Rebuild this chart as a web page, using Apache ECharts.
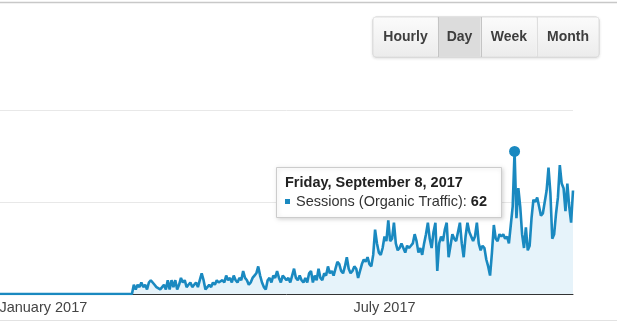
<!DOCTYPE html>
<html>
<head>
<meta charset="utf-8">
<script src="https://cdn.jsdelivr.net/npm/echarts@6/dist/echarts.min.js"></script>
<style>
html,body{margin:0;padding:0;background:#fff;}
#chart{width:617px;height:322px;}
</style>
</head>
<body>
<div id="chart"></div>
<script>
// ---- data ----
var startDate = '2016-12-09';
var tickDates = ['2017-01-01', '2017-07-01'];
var tickLabels = ['January 2017', 'July 2017'];
var buttonLabels = ['Hourly', 'Day', 'Week', 'Month'];
var selectedButton = 'Day';
var seriesName = 'Sessions (Organic Traffic)';
var highlightDate = '2017-09-08';
var highlightTitle = 'Friday, September 8, 2017';
var sessions = [
  0,0,0,0,0,0,0,0,0,0, 0,0,0,0,0,0,0,0,0,0,
  0,0,0,0,0,0,0,0,0,0, 0,0,0,0,0,0,0,0,0,0,
  0,0,0,0,0,0,0,0,0,0, 0,0,0,0,0,0,0,0,0,0,
  0,0,0,0,0,0,0,0,0,0, 0,
  4,2,4,3,5,3,4,2,5, 6,5,4,3,3,2,3,4,2,6,
  2,6,3,6,2,4,7,5,6,3, 4,5,3,4,5,3,6,9,6,2,
  3,4,3,5,4,6,5,5,6,5, 8,6,7,5,8,6,5,7,6,10,
  7,6,4,5,7,8,9,12,8,5, 3,2,6,7,5,8,7,10,7,5,
  8,7,6,7,5,8,11,7,6,8, 6,5,7,5,9,10,5,8,6,11,
  7,6,9,8,12,9,10,8,11,14, 13,10,9,12,16,11,9,10,12,11,
  7,10,13,15,14,16,13,12,17,28, 22,18,17,20,25,23,32,23,24,31,
  22,19,20,22,20,18,21,20,21,22, 26,23,18,20,17,22,26,31,24,20,
  27,31,10,22,25,23,28,31,16,21, 26,24,23,27,31,22,16,25,31,27,
  25,23,25,31,22,19,21,20,15,12, 8,18,30,24,23,26,25,26,24,25,
  22,30,38,62,33,46,38,26,20,29, 19,21,33,41,40,42,38,34,35,35,
  45,55,44,24,26,35,42,56,48,46, 36,48,38,31,45
];
var yMax = 80, yInterval = 40;

// category dates derived from the start date
function pad(n){return n<10?'0'+n:''+n;}
var dates = [];
(function(){
  var p = startDate.split('-');
  var t0 = Date.UTC(+p[0], +p[1]-1, +p[2]);
  for (var i = 0; i < sessions.length; i++) {
    var d = new Date(t0 + i*86400000);
    dates.push(d.getUTCFullYear()+'-'+pad(d.getUTCMonth()+1)+'-'+pad(d.getUTCDate()));
  }
})();
var highlightValue = sessions[dates.indexOf(highlightDate)];

var blue = '#1a89c0';
var font = '"Liberation Sans", Arial, sans-serif';

// buttons
var btnX = [373, 438, 481, 537, 599];
var graphics = [];
graphics.push({type:'line', shape:{x1:0,y1:2.5,x2:617,y2:2.5}, style:{stroke:'#c8c8c8', lineWidth:1.5}, z:1});
graphics.push({type:'line', shape:{x1:0,y1:320.5,x2:617,y2:320.5}, style:{stroke:'#e2e2e2', lineWidth:1}, z:1});
graphics.push({type:'rect', shape:{x:373,y:17,width:226,height:40,r:3},
  style:{fill:'#f4f4f4', stroke:'#cfcfcf', lineWidth:1, shadowBlur:3, shadowColor:'rgba(0,0,0,0.12)', shadowOffsetY:1}, z:10});
for (var b = 0; b < buttonLabels.length; b++) {
  var x0 = btnX[b], x1 = btnX[b+1];
  var sel = buttonLabels[b] === selectedButton;
  graphics.push({type:'rect', shape:{x:x0+0.5,y:17.5,width:x1-x0-1,height:39},
    style:{fill: sel ? '#dcdcdc' : {type:'linear',x:0,y:0,x2:0,y2:1,colorStops:[{offset:0,color:'#fbfbfb'},{offset:1,color:'#ececec'}]}}, z:11});
  if (b > 0) graphics.push({type:'line', shape:{x1:x0+0.5,y1:17,x2:x0+0.5,y2:57}, style:{stroke: sel || buttonLabels[b-1]===selectedButton ? '#c4c4c4':'#dedede', lineWidth:1}, z:12});
  graphics.push({type:'text', x:(x0+x1)/2, y:37, style:{text:buttonLabels[b], font:'bold 14px '+font, fill:'#3e3e3e', textAlign:'center', textVerticalAlign:'middle'}, z:13});
}
// tooltip box
graphics.push({type:'rect', shape:{x:276.5,y:167.5,width:225,height:50},
  style:{fill:'#ffffff', stroke:'#cccccc', lineWidth:1, shadowBlur:4, shadowColor:'rgba(0,0,0,0.15)', shadowOffsetX:1, shadowOffsetY:1}, z:20});
graphics.push({type:'text', x:285, y:183, style:{text:highlightTitle, font:'bold 14.5px '+font, fill:'#222', textVerticalAlign:'middle'}, z:21});
graphics.push({type:'rect', shape:{x:285,y:199,width:5,height:5}, style:{fill:blue}, z:21});
graphics.push({type:'text', x:296, y:202, style:{
  text:'{a|'+seriesName+': }{b|'+highlightValue+'}',
  textVerticalAlign:'middle',
  rich:{a:{font:'14.5px '+font, fill:'#333'}, b:{font:'bold 14.5px '+font, fill:'#222'}}
}, z:21});

var chart = echarts.init(document.getElementById('chart'), null, {renderer:'canvas'});
chart.setOption({
  animation:false,
  backgroundColor:'#ffffff',
  grid:{left:0, right:44, top:110, bottom:28, containLabel:false, outerBoundsMode:'none'},
  xAxis:{
    type:'category', data:dates, boundaryGap:false,
    axisLine:{show:true, lineStyle:{color:'#333', width:1}},
    axisTick:{show:false},
    splitLine:{show:false},
    axisLabel:{
      interval:function(i, v){return tickDates.indexOf(v) >= 0;},
      formatter:function(v){var k = tickDates.indexOf(v); return k>=0 ? tickLabels[k] : '';},
      color:'#444', fontSize:14.5, fontFamily:font, margin:6
    }
  },
  yAxis:{
    type:'value', min:0, max:yMax, interval:yInterval,
    axisLine:{show:false}, axisTick:{show:false}, axisLabel:{show:false},
    splitLine:{lineStyle:{color:'#e8e8e8', width:1}}
  },
  series:[{
    name:seriesName, type:'line', data:sessions, showSymbol:false,
    lineStyle:{color:blue, width:2.6},
    itemStyle:{color:blue},
    areaStyle:{color:'#e6f3fa', opacity:1},
    markPoint:{
      symbol:'circle', symbolSize:11, label:{show:false},
      itemStyle:{color:blue},
      data:[{coord:[highlightDate, highlightValue]}]
    },
    z:5
  }],
  graphic:graphics
});
</script>
</body>
</html>
